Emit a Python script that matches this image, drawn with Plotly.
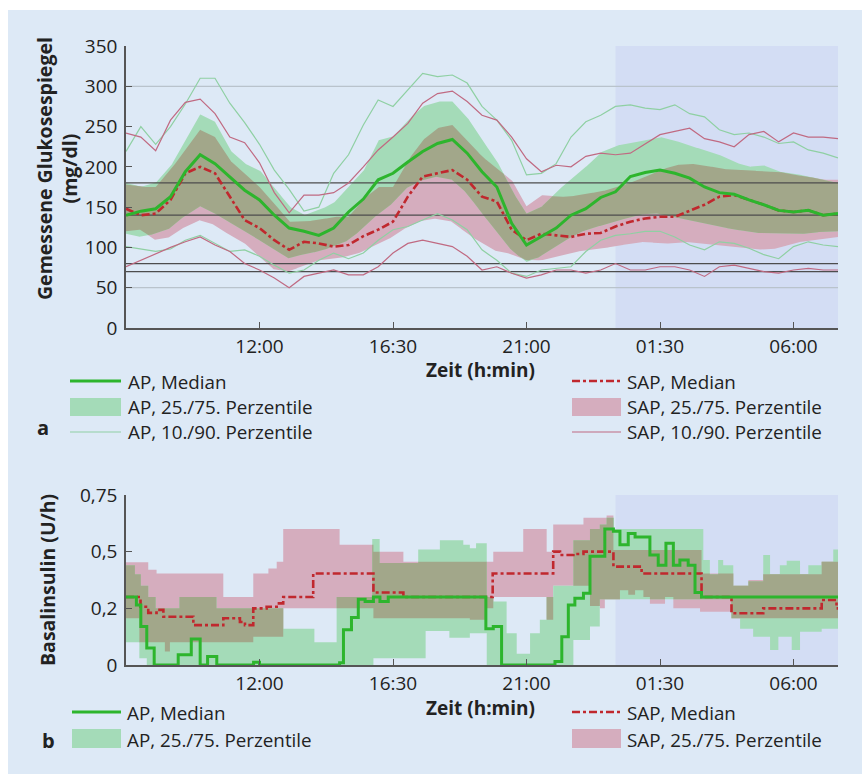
import numpy as np
import plotly.graph_objects as go

W, H = 862, 774

# ---------------- data: glucose (mg/dl), half-hourly 07:30 -> 07:30 ----------------
HOURS = [7.5, 8.0, 8.5, 9.0, 9.5, 10.0, 10.5, 11.0, 11.5, 12.0, 12.5, 13.0, 13.5, 14.0, 14.5, 15.0, 15.5,
         16.0, 16.5, 17.0, 17.5, 18.0, 18.5, 19.0, 19.5, 20.0, 20.5, 21.0, 21.5, 22.0, 22.5, 23.0, 23.5,
         24.0, 24.5, 25.0, 25.5, 26.0, 26.5, 27.0, 27.5, 28.0, 28.5, 29.0, 29.5, 30.0, 30.5, 31.0, 31.5]

AP_MED = [140, 145, 148, 163, 194, 215, 204, 188, 171, 159, 140, 124, 120, 115, 124, 144, 160,
          184, 192, 206, 219, 229, 234, 217, 194, 175, 130, 103, 113, 124, 140, 148, 162,
          169, 188, 193, 196, 192, 186, 175, 168, 166, 159, 153, 146, 144, 146, 140, 142]
AP_25 = [117, 113, 117, 124, 140, 151, 142, 132, 120, 109, 97, 86, 92, 95, 101, 109, 124,
         142, 155, 175, 184, 188, 184, 167, 142, 120, 96, 82, 89, 101, 113, 122, 127,
         132, 138, 142, 142, 138, 134, 130, 126, 122, 120, 117, 117, 117, 117, 120, 120]
AP_75 = [180, 175, 180, 200, 233, 265, 256, 221, 204, 196, 175, 151, 140, 146, 155, 175, 194,
         233, 237, 258, 275, 281, 281, 262, 233, 208, 171, 142, 150, 169, 184, 200, 218,
         226, 230, 233, 237, 233, 226, 221, 215, 206, 200, 202, 194, 192, 188, 184, 180]
AP_10 = [101, 98, 95, 98, 109, 115, 105, 95, 97, 89, 78, 68, 72, 84, 93, 86, 93,
         109, 122, 126, 134, 142, 134, 122, 97, 84, 68, 64, 72, 74, 76, 95, 109,
         115, 117, 120, 120, 113, 103, 97, 107, 105, 99, 91, 86, 101, 107, 103, 101]
AP_90 = [219, 250, 228, 250, 278, 310, 310, 279, 255, 228, 196, 172, 145, 150, 192, 215, 252,
         283, 275, 295, 316, 312, 314, 304, 275, 258, 233, 190, 192, 204, 237, 256, 264,
         275, 277, 273, 271, 277, 266, 262, 246, 240, 242, 237, 229, 231, 221, 217, 211]

SAP_MED = [148, 140, 142, 159, 192, 200, 192, 163, 134, 124, 109, 97, 107, 105, 101, 103, 114,
           122, 132, 163, 188, 192, 196, 184, 163, 157, 122, 109, 117, 115, 113, 117, 118,
           126, 132, 136, 138, 138, 146, 153, 163, 165, 159, 153, 146, 144, 146, 140, 142]
SAP_25 = [120, 122, 109, 113, 126, 134, 128, 115, 105, 89, 72, 70, 78, 84, 86, 89, 95,
          105, 113, 126, 134, 136, 132, 117, 105, 95, 92, 84, 84, 89, 93, 97, 99,
          101, 105, 107, 105, 105, 107, 105, 103, 101, 99, 97, 99, 105, 109, 111, 113]
SAP_75 = [178, 175, 175, 196, 221, 246, 237, 208, 192, 175, 155, 132, 132, 134, 138, 138, 160,
          175, 175, 208, 233, 248, 252, 233, 213, 198, 184, 151, 165, 163, 163, 167, 169,
          175, 180, 188, 196, 202, 204, 202, 198, 196, 196, 194, 194, 190, 188, 184, 184]
SAP_10 = [76, 84, 92, 100, 107, 113, 103, 95, 80, 72, 62, 50, 64, 68, 72, 66, 66,
          76, 93, 105, 109, 105, 101, 89, 72, 76, 68, 62, 66, 72, 72, 68, 72,
          80, 72, 72, 76, 76, 72, 64, 76, 78, 74, 70, 68, 72, 74, 72, 72]
SAP_90 = [242, 237, 220, 258, 280, 284, 266, 237, 230, 205, 168, 143, 165, 165, 168, 180, 200,
          221, 237, 254, 279, 291, 294, 281, 264, 258, 237, 210, 194, 202, 200, 213, 217,
          215, 217, 229, 240, 244, 248, 235, 231, 225, 240, 244, 231, 242, 237, 237, 235]

# ---------------- data: basal insulin (U/h), step change points ----------------
B_AP_MED_T = [7.5, 7.85, 8.0, 8.2, 8.45, 9.26, 9.7, 10.0, 10.25, 10.56, 11.8, 12.0, 14.7, 14.83, 15.1,
              15.33, 15.56, 15.84, 16.06, 16.34, 19.63, 19.88, 20.16, 21.96, 22.19, 22.41, 22.63, 22.92,
              23.14, 23.64, 23.93, 24.15, 24.43, 24.66, 25.16, 25.44, 25.70, 25.95, 26.17, 26.45, 26.68, 26.90]
B_AP_MED_V = [0.30, 0.265, 0.17, 0.075, 0.0, 0.045, 0.115, 0.0, 0.037, 0.0, 0.012, 0.0, 0.01, 0.155, 0.21,
              0.29, 0.28, 0.30, 0.28, 0.30, 0.16, 0.17, 0.0, 0.015, 0.125, 0.265, 0.294, 0.316,
              0.48, 0.60, 0.59, 0.53, 0.58, 0.565, 0.485, 0.44, 0.537, 0.44, 0.463, 0.44, 0.32, 0.30]
B_AP_25_T = [7.5, 7.95, 8.2, 15.84, 17.6, 18.4, 19.09, 19.66, 22.58, 23.14, 23.47, 27.9, 28.2, 28.64,
             29.21, 29.49, 29.94, 30.22, 30.95]
B_AP_25_V = [0.10, 0.03, 0.0, 0.03, 0.15, 0.12, 0.14, 0.0, 0.11, 0.17, 0.29, 0.206, 0.16, 0.125,
             0.066, 0.125, 0.066, 0.147, 0.16]
B_AP_75_T = [7.5, 7.8, 8.0, 8.25, 8.5, 9.3, 10.55, 11.8, 12.8, 13.85, 14.6, 15.8, 16.05, 17.35, 18.08,
             18.87, 19.09, 19.3, 19.66, 19.88, 20.33, 20.67, 21.12, 21.45, 21.68, 21.9, 22.58, 23.14, 23.47,
             23.7, 23.95, 26.96, 27.18, 27.46, 27.63, 27.97, 28.48, 28.98, 29.21, 29.54, 29.77, 30.22,
             30.5, 30.95, 31.34]
B_AP_75_V = [0.44, 0.40, 0.35, 0.30, 0.25, 0.30, 0.25, 0.25, 0.16, 0.10, 0.30, 0.556, 0.45, 0.51, 0.55,
             0.53, 0.515, 0.537, 0.30, 0.28, 0.14, 0.05, 0.14, 0.20, 0.30, 0.35, 0.55, 0.60, 0.62,
             0.65, 0.60, 0.463, 0.40, 0.463, 0.44, 0.35, 0.37, 0.485, 0.40, 0.44, 0.46, 0.40,
             0.44, 0.456, 0.51]

B_SAP_MED_T = [7.5, 7.99, 8.25, 8.53, 8.76, 9.77, 10.78, 11.34, 11.51, 11.79, 12.24, 12.58, 12.8, 13.81,
               15.84, 16.85, 19.86, 21.9, 22.13, 22.58, 22.92, 23.93, 24.88, 26.9, 27.91, 28.98, 30.95, 31.45]
B_SAP_MED_V = [0.30, 0.257, 0.23, 0.243, 0.213, 0.176, 0.206, 0.19, 0.176, 0.25, 0.257, 0.272, 0.30, 0.404,
               0.32, 0.30, 0.404, 0.50, 0.485, 0.49, 0.50, 0.434, 0.404, 0.30, 0.228, 0.25, 0.287, 0.25]
B_SAP_25_T = [7.5, 7.95, 8.81, 8.98, 11.79, 12.8, 14.6, 15.84, 19.09, 19.66, 19.88, 21.68, 21.9, 22.58,
              23.14, 23.47, 23.64, 24.15, 24.43, 24.66, 24.94, 25.16, 25.67, 25.95, 26.85, 27.91]
B_SAP_25_V = [0.206, 0.10, 0.06, 0.10, 0.125, 0.25, 0.25, 0.206, 0.20, 0.25, 0.30, 0.20, 0.35, 0.35,
              0.26, 0.25, 0.29, 0.33, 0.31, 0.33, 0.30, 0.27, 0.30, 0.25, 0.235, 0.206]
B_SAP_75_T = [7.5, 8.25, 8.53, 10.78, 11.79, 12.3, 12.58, 12.8, 14.7, 15.84, 16.85, 19.88, 20.89, 21.68,
              21.9, 22.92, 23.7, 23.93, 26.9, 27.97, 28.48, 28.98, 30.95]
B_SAP_75_V = [0.453, 0.42, 0.404, 0.30, 0.404, 0.426, 0.456, 0.60, 0.53, 0.50, 0.455, 0.50, 0.60, 0.50,
              0.62, 0.65, 0.66, 0.507, 0.404, 0.35, 0.375, 0.40, 0.456]

# ---------------- axes / labels ----------------
X_START, X_END = 7.5, 31.5
NIGHT_START = 24.0
TIME_TICKS = [12, 16.5, 21, 25.5, 30]
TIME_LABELS = ["12:00", "16:30", "21:00", "01:30", "06:00"]
GLU_TICKS = [0, 50, 100, 150, 200, 250, 300, 350]
INS_TICKS = [0, 0.25, 0.5, 0.75]
INS_LABELS = ["0", "0,2", "0,5", "0,75"]
TARGET_LINES = [180, 140, 80, 70]
GUIDE_LINES = [300, 50]

# ---------------- style ----------------
FONT = "Open Sans"
BG = "#dde9f6"
NIGHT = "#d3ddf4"
GREEN_BAND = "#a4dbb8"
PINK_BAND = "#d5adbe"
OLIVE = "#a2a78a"
GREEN = "#2db52d"
RED = "#c0282e"
GREEN_THIN = "#8fd0a3"
RED_THIN = "#c06a82"
AXIS = "#555555"
TXT = "#222222"
DASHDOT = "8px,3px,3px,3px"
LEG_SIZE = 18.8
TICK_SIZE = 19
TITLE_SIZE = 19.5


def px(x):
    return x / W


def py(y):
    return 1 - y / H


fig = go.Figure()


def poly(x, lo, hi, color, xa, ya):
    xs = np.concatenate([x, x[::-1]])
    ys = np.concatenate([hi, lo[::-1]])
    fig.add_trace(go.Scatter(x=xs, y=ys, mode="lines", fill="toself", fillcolor=color,
                             line=dict(width=0, color=color), hoverinfo="skip",
                             showlegend=False, xaxis=xa, yaxis=ya))


# ---- top panel bands ----
t = np.array(HOURS)
fine = np.linspace(X_START, X_END, 961)


def fi(a):
    return np.interp(fine, t, np.array(a, dtype=float))


a25, a75, s25, s75 = fi(AP_25), fi(AP_75), fi(SAP_25), fi(SAP_75)
poly(fine, s25, s75, PINK_BAND, "x", "y")
poly(fine, a25, a75, GREEN_BAND, "x", "y")
olo = np.maximum(a25, s25)
ohi = np.maximum(olo, np.minimum(a75, s75))
poly(fine, olo, ohi, OLIVE, "x", "y")

for v in TARGET_LINES:
    fig.add_trace(go.Scatter(x=[X_START, X_END], y=[v, v], mode="lines",
                             line=dict(color="#4d4d4d", width=1.3), hoverinfo="skip",
                             showlegend=False, xaxis="x", yaxis="y"))

for arr, col in [(AP_90, GREEN_THIN), (AP_10, GREEN_THIN), (SAP_90, RED_THIN), (SAP_10, RED_THIN)]:
    fig.add_trace(go.Scatter(x=HOURS, y=arr, mode="lines", line=dict(color=col, width=1.2),
                             showlegend=False, xaxis="x", yaxis="y"))

fig.add_trace(go.Scatter(x=HOURS, y=SAP_MED, mode="lines", line=dict(color=RED, width=2.6, dash=DASHDOT),
                         showlegend=False, xaxis="x", yaxis="y"))
fig.add_trace(go.Scatter(x=HOURS, y=AP_MED, mode="lines", line=dict(color=GREEN, width=3),
                         showlegend=False, xaxis="x", yaxis="y"))

# ---- bottom panel (step functions) ----
grid = np.unique(np.concatenate([B_AP_25_T, B_AP_75_T, B_SAP_25_T, B_SAP_75_T, [X_END]]))


def step_eval(times, vals, g):
    idx = np.searchsorted(np.array(times), g, side="right") - 1
    return np.array(vals, dtype=float)[idx]


def expand(v):
    xs = np.repeat(grid, 2)[1:-1]
    ys = np.repeat(v, 2)
    return xs, ys


g0 = grid[:-1]
ba25 = step_eval(B_AP_25_T, B_AP_25_V, g0)
ba75 = step_eval(B_AP_75_T, B_AP_75_V, g0)
bs25 = step_eval(B_SAP_25_T, B_SAP_25_V, g0)
bs75 = step_eval(B_SAP_75_T, B_SAP_75_V, g0)
bolo = np.maximum(ba25, bs25)
bohi = np.maximum(bolo, np.minimum(ba75, bs75))

for lo, hi, col in [(bs25, bs75, PINK_BAND), (ba25, ba75, GREEN_BAND), (bolo, bohi, OLIVE)]:
    xs, ylo = expand(lo)
    _, yhi = expand(hi)
    poly(xs, ylo, yhi, col, "x2", "y2")

fig.add_trace(go.Scatter(x=B_SAP_MED_T + [X_END], y=B_SAP_MED_V + [B_SAP_MED_V[-1]], mode="lines",
                         line=dict(color=RED, width=2.6, dash=DASHDOT, shape="hv"),
                         showlegend=False, xaxis="x2", yaxis="y2", cliponaxis=False))
fig.add_trace(go.Scatter(x=B_AP_MED_T + [X_END], y=B_AP_MED_V + [B_AP_MED_V[-1]], mode="lines",
                         line=dict(color=GREEN, width=3, shape="hv"),
                         showlegend=False, xaxis="x2", yaxis="y2", cliponaxis=False))

# ---- shapes: background, night shading, guide lines ----
shapes = [
    dict(type="rect", xref="paper", yref="paper", x0=px(8), x1=1, y0=0, y1=py(10),
         fillcolor=BG, line=dict(width=0), layer="below"),
    dict(type="rect", xref="x", yref="y domain", x0=NIGHT_START, x1=X_END, y0=0, y1=1,
         fillcolor=NIGHT, line=dict(width=0), layer="below"),
    dict(type="rect", xref="x2", yref="y2 domain", x0=NIGHT_START, x1=X_END, y0=0, y1=1,
         fillcolor=NIGHT, line=dict(width=0), layer="below"),
]
for v in GUIDE_LINES:
    shapes.append(dict(type="line", xref="x", yref="y", x0=X_START, x1=X_END, y0=v, y1=v,
                       line=dict(color="#b9c3cc", width=1.2), layer="below"))

# ---- legends (drawn manually) ----
annotations = []


def leg_line(x0, x1, y, color, width, dash=None):
    ln = dict(color=color, width=width)
    if dash:
        ln["dash"] = dash
    shapes.append(dict(type="line", xref="paper", yref="paper", x0=px(x0), x1=px(x1),
                       y0=py(y), y1=py(y), line=ln))


def leg_rect(x0, x1, y0, y1, color):
    shapes.append(dict(type="rect", xref="paper", yref="paper", x0=px(x0), x1=px(x1),
                       y0=py(y1), y1=py(y0), fillcolor=color, line=dict(width=0)))


def text(x, y, s, size=LEG_SIZE, bold=False, anchor="left", angle=0):
    annotations.append(dict(xref="paper", yref="paper", x=px(x), y=py(y), text=("<b>%s</b>" % s) if bold else s,
                            showarrow=False, xanchor=anchor, yanchor="middle", textangle=angle,
                            font=dict(family=FONT, size=size, color=TXT)))


# top legend
leg_line(70, 121, 381, GREEN, 3)
leg_rect(70, 121, 398, 416, GREEN_BAND)
leg_line(70, 121, 432, GREEN_THIN, 1.2)
text(126, 382, "AP, Median")
text(126, 407, "AP, 25./75. Perzentile")
text(126, 432, "AP, 10./90. Perzentile")
leg_line(572, 621, 381, RED, 2.6, DASHDOT)
leg_rect(572, 621, 398, 416, PINK_BAND)
leg_line(572, 621, 432, RED_THIN, 1.2)
text(625, 382, "SAP, Median")
text(625, 407, "SAP, 25./75. Perzentile")
text(625, 432, "SAP, 10./90. Perzentile")
text(43, 427, "a", size=20, bold=True, anchor="center")

# bottom legend
leg_line(72, 121, 712, GREEN, 3)
leg_rect(72, 121, 729, 748, GREEN_BAND)
text(125, 713, "AP, Median")
text(125, 740, "AP, 25./75. Perzentile")
leg_line(572, 621, 712, RED, 2.6, DASHDOT)
leg_rect(572, 621, 729, 748, PINK_BAND)
text(625, 713, "SAP, Median")
text(625, 740, "SAP, 25./75. Perzentile")
text(48, 740, "b", size=20, bold=True, anchor="center")

# axis titles
text(480, 370, "Zeit (h:min)", size=19, bold=True, anchor="center")
text(480, 708, "Zeit (h:min)", size=19, bold=True, anchor="center")
text(57, 169, "Gemessene Glukosespiegel<br>(mg/dl)", size=TITLE_SIZE, bold=True, anchor="center", angle=-90)
text(47, 580, "Basalinsulin (U/h)", size=TITLE_SIZE, bold=True, anchor="center", angle=-90)

common_x = dict(range=[X_START, X_END], tickvals=TIME_TICKS, ticktext=TIME_LABELS, showgrid=False,
                zeroline=False, showline=True, linecolor=AXIS, linewidth=1.5, ticks="inside",
                ticklen=6, tickcolor=AXIS, tickfont=dict(family=FONT, size=TICK_SIZE, color=TXT),
                domain=[px(126), px(838)], automargin=False)
common_y = dict(showgrid=False, zeroline=False, showline=True, linecolor=AXIS, linewidth=1.5,
                ticks="inside", ticklen=6, tickcolor=AXIS, ticklabelstandoff=3, automargin=False,
                tickfont=dict(family=FONT, size=TICK_SIZE, color=TXT))

fig.update_layout(
    width=W, height=H, margin=dict(l=0, r=0, t=0, b=0, pad=0), autosize=False,
    paper_bgcolor="white", plot_bgcolor="rgba(0,0,0,0)", showlegend=False,
    xaxis=dict(anchor="y", **common_x),
    yaxis=dict(anchor="x", domain=[py(328), py(46)], range=[0, 350], tickvals=GLU_TICKS, **common_y),
    xaxis2=dict(anchor="y2", **common_x),
    yaxis2=dict(anchor="x2", domain=[py(665), py(495)], range=[0, 0.75], tickvals=INS_TICKS,
                ticktext=INS_LABELS, **common_y),
    shapes=shapes, annotations=annotations,
)

fig.write_html("out.html")
